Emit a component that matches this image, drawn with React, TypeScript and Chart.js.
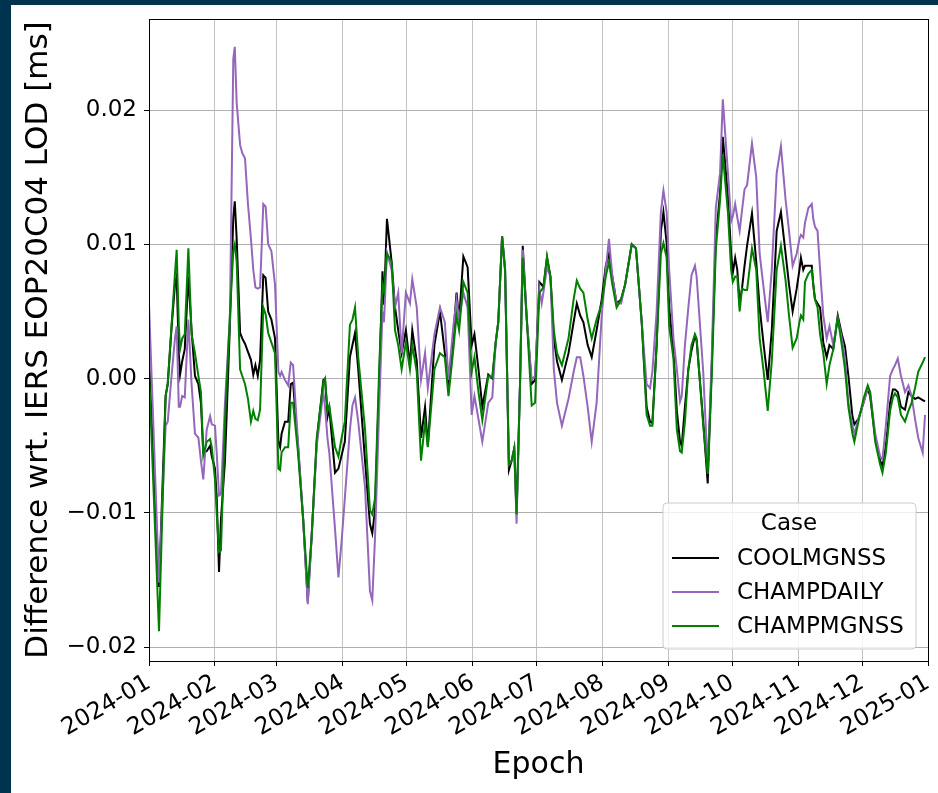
import React, { useEffect, useRef } from "react";
import { Chart, registerables } from "chart.js";

Chart.register(...registerables);

// Day offsets from 2024-01-01
const days = [
  0, 4.7, 7.8, 8.8, 10.6, 12.2, 13, 14, 14.6,
  15.6, 16.8, 18.5, 20, 21.6, 23.2, 24.4, 25.5, 27.1, 28.7,
  29.5, 31, 31.8, 32.9, 33.8, 35.7, 38, 39.6, 40.3, 41.2,
  42.8, 43.8, 45.1, 46.5, 47.9, 49, 50, 51.1, 52.2, 53.7,
  54.8, 56, 57.5, 59.2, 60.8, 61.6, 62.3, 63.9, 65.4, 66.6,
  67.7, 70, 72.4, 74.6, 76.4, 78.8, 81.9, 82.7, 83.9, 84.7,
  87.4, 89, 90.5, 92, 94.4, 95.6, 96.8, 98.3, 101.5, 103.8,
  104.9, 106.2, 108.2, 109.7, 110.4, 111.8, 114, 115.6, 117.1, 118.7,
  120.7, 122.6, 123.7, 125.8, 127.8, 129.7, 131, 134.1, 136.7, 139,
  140.7, 143, 144.5, 145.7, 147.7, 149.7, 151.6, 152.9, 154.8, 156.6,
  159.4, 161.3, 162.9, 164.1, 165.9, 167.3, 169.1, 170.4, 171.6, 172.7,
  174.3, 175.6, 177.5, 179.8, 181.4, 183.4, 184.5, 185.3, 187, 188.6,
  190.2, 191.7, 194, 197.1, 199.5, 201, 202.6, 204.1, 206.1, 208,
  210.3, 212.7, 214.6, 216.1, 217.7, 219.7, 221.8, 223.7, 226.8, 228.8,
  231.5, 233.8, 235.4, 236.5, 238.5, 240.5, 241.7, 243.2, 244.4, 246.4,
  248, 249.5, 250.3, 251.8, 253.4, 254.9, 256.5, 257.3, 260.4, 262.5,
  264.4, 266.3, 268.3, 269.6, 272, 273.5, 274.3, 275.4, 276.4, 277.5,
  278.6, 279.8, 281, 283.3, 285.3, 286.9, 288.8, 290.7, 292.6, 294.9,
  296.9, 299.1, 300.7, 302.4, 304.3, 305.6, 306.3, 307.4, 308.2, 309.8,
  311.4, 312.1, 312.9, 314.1, 315.3, 316.8, 318.4, 319.7, 321.5, 323.6,
  325.5, 327, 328.6, 330.5, 331.4, 333.3, 335.7, 337.7, 338.8, 341.2,
  343.5, 344.6, 346.2, 348.2, 349.5, 350.5, 351.8, 353.3, 355.2, 356.8,
  358.3, 359.9, 361.4, 363.5, 364.6,
];

const coolmgnss = [
  0.0015, -0.0155, -0.0013, -0.0004, 0.0038, 0.0070, 0.0076, 0.0019, 0.0003,
  0.0013, 0.0022, 0.0076, 0.0036, 0.0002, -0.0004, -0.0018, -0.0055, -0.0054, -0.0050,
  -0.0058, -0.0067, -0.0088, -0.0144, -0.0105, -0.0061, 0.0039, 0.0120, 0.0132, 0.0104,
  0.0034, 0.0030, 0.0026, 0.0020, 0.0014, 0.0003, 0.0010, 0.0002, 0.0014, 0.0077,
  0.0075, 0.0050, 0.0044, 0.0030, -0.0047, -0.0051, -0.0041, -0.0032, -0.0032, -0.0004,
  -0.0003, -0.0050, -0.0104, -0.0166, -0.0118, -0.0047, -0.0001, 0.0000, -0.0028, -0.0022,
  -0.0070, -0.0067, -0.0057, -0.0047, 0.0016, 0.0025, 0.0034, 0.0007, -0.0061, -0.0108,
  -0.0115, -0.0098, 0.0000, 0.0080, 0.0055, 0.0119, 0.0087, 0.0053, 0.0036, 0.0019,
  0.0036, 0.0010, 0.0036, 0.0013, -0.0044, -0.0021, -0.0050, 0.0025, 0.0050, 0.0019,
  -0.0004, 0.0033, 0.0064, 0.0044, 0.0091, 0.0083, 0.0025, 0.0033, 0.0007, -0.0021,
  0.0003, 0.0000, 0.0027, 0.0042, 0.0106, 0.0081, -0.0068, -0.0061, -0.0052, -0.0101,
  -0.0005, 0.0099, 0.0044, -0.0004, -0.0001, 0.0072, 0.0070, 0.0068, 0.0090, 0.0076,
  0.0030, 0.0013, -0.0001, 0.0019, 0.0042, 0.0056, 0.0047, 0.0042, 0.0025, 0.0016,
  0.0036, 0.0059, 0.0084, 0.0093, 0.0076, 0.0056, 0.0059, 0.0070, 0.0100, 0.0097,
  0.0042, -0.0021, -0.0032, -0.0033, 0.0025, 0.0110, 0.0124, 0.0101, 0.0053, 0.0021,
  -0.0024, -0.0047, -0.0050, -0.0021, 0.0007, 0.0021, 0.0032, 0.0028, -0.0032, -0.0078,
  0.0010, 0.0104, 0.0138, 0.0180, 0.0136, 0.0093, 0.0079, 0.0090, 0.0081, 0.0056,
  0.0067, 0.0084, 0.0099, 0.0123, 0.0087, 0.0053, 0.0025, -0.0001, 0.0036, 0.0110,
  0.0124, 0.0093, 0.0070, 0.0050, 0.0067, 0.0081, 0.0090, 0.0081, 0.0084, 0.0084,
  0.0084, 0.0070, 0.0059, 0.0056, 0.0053, 0.0027, 0.0016, 0.0025, 0.0022, 0.0047,
  0.0033, 0.0024, 0.0002, -0.0028, -0.0034, -0.0030, -0.0018, -0.0007, -0.0013, -0.0044,
  -0.0061, -0.0065, -0.0050, -0.0018, -0.0008, -0.0008, -0.0010, -0.0021, -0.0023, -0.0010,
  -0.0013, -0.0015, -0.0014, -0.0016, -0.0017,
];

const champdaily = [
  0.0056, -0.0152, -0.0035, -0.0032, 0.0002, 0.0030, 0.0039, -0.0021, -0.0021,
  -0.0013, -0.0014, 0.0044, -0.0004, -0.0041, -0.0044, -0.0061, -0.0075, -0.0038, -0.0028,
  -0.0034, -0.0035, -0.0055, -0.0087, -0.0086, -0.0018, 0.0045, 0.0238, 0.0247, 0.0205,
  0.0174, 0.0168, 0.0164, 0.0130, 0.0104, 0.0081, 0.0068, 0.0067, 0.0068, 0.0130,
  0.0128, 0.0100, 0.0095, 0.0070, 0.0005, 0.0002, 0.0005, -0.0001, -0.0005, 0.0012,
  0.0010, -0.0047, -0.0104, -0.0168, -0.0118, -0.0050, -0.0010, -0.0021, -0.0045, -0.0055,
  -0.0112, -0.0148, -0.0121, -0.0089, -0.0038, -0.0020, -0.0014, -0.0032, -0.0081, -0.0158,
  -0.0165, -0.0118, -0.0020, 0.0050, 0.0042, 0.0094, 0.0081, 0.0053, 0.0064, 0.0019,
  0.0064, 0.0056, 0.0074, 0.0053, -0.0001, 0.0019, -0.0007, 0.0033, 0.0053, 0.0042,
  -0.0001, 0.0039, 0.0059, 0.0044, 0.0064, 0.0053, -0.0027, -0.0013, -0.0030, -0.0047,
  -0.0018, -0.0014, 0.0027, 0.0042, 0.0106, 0.0081, -0.0064, -0.0061, -0.0052, -0.0108,
  -0.0005, 0.0096, 0.0044, -0.0001, 0.0002, 0.0067, 0.0056, 0.0064, 0.0083, 0.0076,
  0.0007, -0.0018, -0.0035, -0.0015, 0.0005, 0.0016, 0.0016, 0.0002, -0.0021, -0.0047,
  -0.0018, 0.0047, 0.0081, 0.0104, 0.0076, 0.0056, 0.0056, 0.0070, 0.0100, 0.0097,
  0.0042, -0.0004, -0.0007, 0.0005, 0.0050, 0.0124, 0.0140, 0.0124, 0.0081, 0.0030,
  0.0007, -0.0017, -0.0013, 0.0025, 0.0053, 0.0077, 0.0084, 0.0076, 0.0005, -0.0067,
  0.0016, 0.0127, 0.0153, 0.0208, 0.0153, 0.0117, 0.0121, 0.0130, 0.0120, 0.0110,
  0.0125, 0.0141, 0.0144, 0.0175, 0.0150, 0.0093, 0.0067, 0.0042, 0.0081, 0.0153,
  0.0173, 0.0133, 0.0110, 0.0084, 0.0093, 0.0104, 0.0107, 0.0105, 0.0116, 0.0127,
  0.0130, 0.0119, 0.0113, 0.0110, 0.0081, 0.0047, 0.0030, 0.0039, 0.0025, 0.0045,
  0.0030, 0.0015, -0.0018, -0.0035, -0.0041, -0.0030, -0.0018, -0.0007, -0.0010, -0.0041,
  -0.0058, -0.0060, -0.0035, 0.0002, 0.0007, 0.0010, 0.0015, 0.0002, -0.0010, -0.0005,
  -0.0013, -0.0030, -0.0044, -0.0055, -0.0027,
];

const champmgnss = [
  0.0005, -0.0188, -0.0013, -0.0004, 0.0040, 0.0078, 0.0096, 0.0040, 0.0022,
  0.0030, 0.0033, 0.0097, 0.0033, 0.0019, 0.0002, -0.0010, -0.0057, -0.0047, -0.0045,
  -0.0051, -0.0075, -0.0100, -0.0129, -0.0128, -0.0032, 0.0047, 0.0095, 0.0100, 0.0087,
  0.0007, 0.0002, -0.0004, -0.0015, -0.0032, -0.0024, -0.0030, -0.0031, -0.0023, 0.0053,
  0.0048, 0.0034, 0.0027, 0.0019, -0.0067, -0.0068, -0.0055, -0.0051, -0.0051, -0.0018,
  -0.0018, -0.0055, -0.0104, -0.0156, -0.0118, -0.0044, -0.0003, 0.0000, -0.0024, -0.0020,
  -0.0051, -0.0058, -0.0044, -0.0032, 0.0040, 0.0044, 0.0053, 0.0016, -0.0038, -0.0098,
  -0.0101, -0.0089, 0.0010, 0.0070, 0.0065, 0.0093, 0.0087, 0.0036, 0.0025, 0.0007,
  0.0027, 0.0007, 0.0025, 0.0005, -0.0061, -0.0032, -0.0051, 0.0007, 0.0019, 0.0016,
  -0.0013, 0.0022, 0.0047, 0.0036, 0.0072, 0.0064, 0.0005, 0.0016, -0.0010, -0.0031,
  0.0002, 0.0001, 0.0027, 0.0042, 0.0106, 0.0081, -0.0064, -0.0061, -0.0052, -0.0101,
  -0.0005, 0.0090, 0.0044, -0.0020, -0.0018, 0.0064, 0.0066, 0.0068, 0.0091, 0.0076,
  0.0036, 0.0019, 0.0010, 0.0030, 0.0059, 0.0073, 0.0067, 0.0064, 0.0044, 0.0030,
  0.0044, 0.0056, 0.0076, 0.0087, 0.0070, 0.0053, 0.0059, 0.0070, 0.0100, 0.0097,
  0.0042, -0.0027, -0.0035, -0.0035, 0.0025, 0.0093, 0.0101, 0.0090, 0.0039, 0.0015,
  -0.0038, -0.0054, -0.0055, -0.0032, 0.0007, 0.0025, 0.0033, 0.0030, -0.0035, -0.0071,
  0.0002, 0.0096, 0.0133, 0.0167, 0.0124, 0.0081, 0.0072, 0.0076, 0.0076, 0.0050,
  0.0067, 0.0066, 0.0066, 0.0097, 0.0081, 0.0030, 0.0005, -0.0024, 0.0013, 0.0081,
  0.0099, 0.0073, 0.0047, 0.0023, 0.0030, 0.0042, 0.0047, 0.0044, 0.0072, 0.0078,
  0.0081, 0.0070, 0.0059, 0.0053, 0.0033, 0.0019, -0.0004, 0.0010, 0.0022, 0.0045,
  0.0025, 0.0007, -0.0021, -0.0041, -0.0047, -0.0032, -0.0015, -0.0005, -0.0010, -0.0047,
  -0.0064, -0.0070, -0.0055, -0.0024, -0.0014, -0.0011, -0.0014, -0.0027, -0.0032, -0.0024,
  -0.0018, -0.0007, 0.0005, 0.0012, 0.0016,
];

const seriesNames = ["COOLMGNSS", "CHAMPDAILY", "CHAMPMGNSS"];
const seriesColors = ["#000000", "#9467bd", "#008000"];

const monthTickDays = [0, 31, 60, 91, 121, 152, 182, 213, 244, 274, 305, 335, 366];
const monthTickLabels = [
  "2024-01", "2024-02", "2024-03", "2024-04", "2024-05", "2024-06", "2024-07",
  "2024-08", "2024-09", "2024-10", "2024-11", "2024-12", "2025-01",
];
const yTickValues = [-0.02, -0.01, 0, 0.01, 0.02];
const yTickLabels = ["\u22120.02", "\u22120.01", "0.00", "0.01", "0.02"];

const yTitle = "Difference wrt. IERS EOP20C04 LOD [ms]";
const xTitle = "Epoch";
const legendTitle = "Case";

const FONT = "'DejaVu Sans', sans-serif";
const NAVY = "#00344e";

const spinePlugin = {
  id: "spines",
  afterDatasetsDraw(chart: any) {
    const { ctx, chartArea } = chart;
    ctx.save();
    ctx.strokeStyle = "#000";
    ctx.lineWidth = 1;
    ctx.strokeRect(
      Math.round(chartArea.left) + 0.5,
      Math.round(chartArea.top) + 0.5,
      Math.round(chartArea.right) - Math.round(chartArea.left),
      Math.round(chartArea.bottom) - Math.round(chartArea.top)
    );
    ctx.restore();
  },
};

const legendPlugin = {
  id: "caseLegend",
  afterDraw(chart: any) {
    const { ctx, chartArea } = chart;
    const w = 253;
    const h = 146;
    const x0 = chartArea.right - 12 - w;
    const y0 = chartArea.bottom - 12 - h;
    const r = 4;
    ctx.save();
    ctx.beginPath();
    ctx.moveTo(x0 + r, y0);
    ctx.lineTo(x0 + w - r, y0);
    ctx.quadraticCurveTo(x0 + w, y0, x0 + w, y0 + r);
    ctx.lineTo(x0 + w, y0 + h - r);
    ctx.quadraticCurveTo(x0 + w, y0 + h, x0 + w - r, y0 + h);
    ctx.lineTo(x0 + r, y0 + h);
    ctx.quadraticCurveTo(x0, y0 + h, x0, y0 + h - r);
    ctx.lineTo(x0, y0 + r);
    ctx.quadraticCurveTo(x0, y0, x0 + r, y0);
    ctx.closePath();
    ctx.fillStyle = "rgba(255,255,255,0.8)";
    ctx.fill();
    ctx.strokeStyle = "#cccccc";
    ctx.lineWidth = 1;
    ctx.stroke();

    ctx.fillStyle = "#000";
    ctx.font = `23px ${FONT}`;
    ctx.textBaseline = "middle";
    ctx.textAlign = "center";
    ctx.fillText(legendTitle, x0 + 126, y0 + 21);

    ctx.textAlign = "left";
    seriesNames.forEach((name, i) => {
      const y = y0 + 55 + i * 34;
      ctx.strokeStyle = seriesColors[i];
      ctx.lineWidth = 2;
      ctx.beginPath();
      ctx.moveTo(x0 + 9, y);
      ctx.lineTo(x0 + 56, y);
      ctx.stroke();
      ctx.fillStyle = "#000";
      ctx.fillText(name, x0 + 74, y + 1);
    });
    ctx.restore();
  },
};

export default function App() {
  const ref = useRef<HTMLCanvasElement>(null);

  useEffect(() => {
    const seriesValues = [coolmgnss, champdaily, champmgnss];
    const chart = new Chart(ref.current as HTMLCanvasElement, {
      type: "line",
      data: {
        datasets: seriesNames.map((name, i) => ({
          label: name,
          data: days.map((d, j) => ({ x: d, y: seriesValues[i][j] })),
          borderColor: seriesColors[i],
          backgroundColor: seriesColors[i],
          borderWidth: 2,
          pointRadius: 0,
          tension: 0,
          fill: false,
          order: 2 - i,
        })),
      },
      options: {
        animation: false,
        responsive: false,
        devicePixelRatio: 1,
        layout: { padding: { top: 14, right: 10, left: 0, bottom: 0 } },
        plugins: {
          legend: { display: false },
          tooltip: { enabled: false },
        },
        scales: {
          x: {
            type: "linear",
            min: 0,
            max: 366,
            afterBuildTicks: (s: any) => {
              s.ticks = monthTickDays.map((v) => ({ value: v }));
            },
            afterFit: (s: any) => {
              s.height = 132;
              s.paddingLeft = 0;
              s.paddingRight = 0;
            },
            ticks: {
              autoSkip: false,
              maxRotation: 30,
              minRotation: 30,
              padding: 3,
              color: "#000",
              font: { family: FONT, size: 23.5 },
              callback: (v: any) => monthTickLabels[monthTickDays.indexOf(v)],
            },
            grid: {
              color: "#c2c2c2",
              lineWidth: 1,
              tickColor: "#000",
              tickLength: 5,
            },
            border: { display: true, color: "#000", width: 1 },
            title: {
              display: true,
              text: xTitle,
              color: "#000",
              font: { family: FONT, size: 30 },
              padding: { top: 0, bottom: 10 },
            },
          },
          y: {
            type: "linear",
            min: -0.02102,
            max: 0.026776,
            afterBuildTicks: (s: any) => {
              s.ticks = yTickValues.map((v) => ({ value: v }));
            },
            afterFit: (s: any) => {
              s.width = 138;
              s.paddingTop = 0;
              s.paddingBottom = 0;
            },
            ticks: {
              padding: 7,
              color: "#000",
              font: { family: FONT, size: 23 },
              callback: (v: any) => {
                const idx = yTickValues.findIndex((t) => Math.abs(t - v) < 1e-9);
                return idx >= 0 ? yTickLabels[idx] : "";
              },
            },
            grid: {
              color: "#b0b0b0",
              lineWidth: 1,
              tickColor: "#000",
              tickLength: 5,
            },
            border: { display: true, color: "#000", width: 1 },
            title: {
              display: true,
              text: yTitle,
              color: "#000",
              font: { family: FONT, size: 31 },
              padding: { top: 9, bottom: 0 },
            },
          },
        },
      },
      plugins: [spinePlugin, legendPlugin],
    } as any);
    return () => chart.destroy();
  }, []);

  return (
    <div
      style={{
        position: "fixed",
        left: 0,
        top: 0,
        width: 938,
        height: 793,
        background: NAVY,
      }}
    >
      <div
        style={{
          position: "absolute",
          left: 11,
          top: 5,
          width: 927,
          height: 788,
          background: "#ffffff",
        }}
      >
        <canvas ref={ref} width={927} height={788} style={{ display: "block" }} />
      </div>
    </div>
  );
}
